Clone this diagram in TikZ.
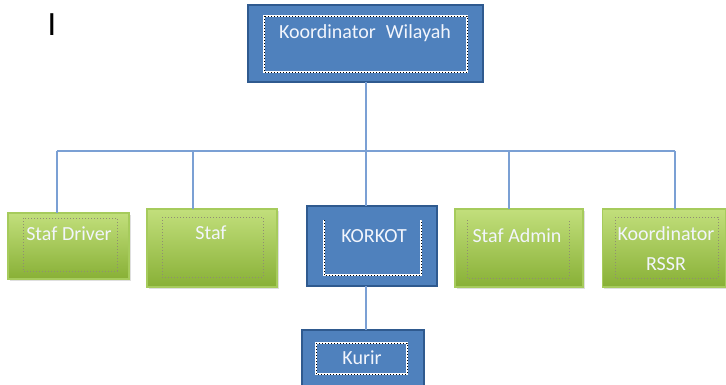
\documentclass[tikz,border=0pt]{standalone}
\usepackage{fontspec}
\setmainfont{Carlito}
\usetikzlibrary{shadows}

\definecolor{boxblue}{HTML}{4F81BD}
\definecolor{edgeblue}{HTML}{2F5A8F}
\definecolor{linkblue}{HTML}{7BA0D4}
\definecolor{greentop}{HTML}{C2DF7C}
\definecolor{greenbot}{HTML}{88B036}
\definecolor{greenedge}{HTML}{A6CB5C}
\definecolor{labelwhite}{HTML}{F2F5FC}

\tikzset{
  bluebox/.style={rectangle,draw=edgeblue,line width=2.2pt,fill=boxblue,inner sep=0pt,outer sep=0pt},
  greenbox/.style={rectangle,draw=greenedge,line width=1.5pt,top color=greentop,bottom color=greenbot,
    inner sep=0pt,outer sep=0pt,drop shadow={opacity=0.25,shadow xshift=1.5pt,shadow yshift=-2pt}},
  bluedots/.style={draw=black,line width=1pt,dotted,preaction={draw=white,line width=1.6pt,solid}},
  greendots/.style={draw=gray!80!olive,line width=1pt,dotted},
  lbl/.style={text=labelwhite,font=\fontsize{20}{30}\selectfont,anchor=base,inner sep=0pt},
  link/.style={draw=linkblue,line width=1.5pt}
}

\begin{document}
\begin{tikzpicture}[x=1pt,y=-1pt]
        \clip (0,0) rectangle (726,384);
        % boxes
        \node at (365.5,43.5) [bluebox,minimum width=235pt,minimum height=77pt] (kw) {};
        \node at (68.5,246) [greenbox,minimum width=121pt,minimum height=66pt] (sd) {};
        \node at (212,248) [greenbox,minimum width=130pt,minimum height=78pt] (st) {};
        \node at (372,246) [bluebox,minimum width=130pt,minimum height=80pt] (ko) {};
        \node at (519,248) [greenbox,minimum width=128pt,minimum height=78pt] (sa) {};
        \node at (664,248) [greenbox,minimum width=123pt,minimum height=78pt] (rs) {};
        \node at (363,360) [bluebox,minimum width=122pt,minimum height=60pt] (ku) {};
        % dotted frames
        \draw[bluedots] (264,16) rectangle (467,72);
        \draw[greendots] (23,218) rectangle (117,271);
        \draw[greendots] (162,217) rectangle (263,277);
        \draw[bluedots] (324,220) -- (324,275) -- (421,275) -- (421,220);
        \draw[greendots] (467,220) -- (467,278) -- (569,278) -- (569,220);
        \draw[greendots] (615,217) rectangle (718,278);
        \draw[bluedots] (316,343) rectangle (407,374);
        % labels
        \node at (365,38) [lbl] (kw-t) {Koordinator\hspace{0.5em}Wilayah};
        \node at (69,240) [lbl] (sd-t) {Staf Driver};
        \node at (211,239) [lbl] (st-t) {Staf};
        \node at (374,242) [lbl] (ko-t) {KORKOT};
        \node at (517,242) [lbl] (sa-t) {Staf Admin};
        \node at (666,270) [lbl,align=center] (rs-t) {Koordinator\\RSSR};
        \node at (362,364) [lbl] (ku-t) {Kurir};
        \node at (52,35) [anchor=base,inner sep=0pt,font=\fontsize{34}{34}\selectfont] (cur) {I};
        % connectors
        \coordinate (d1) at (57,151);
        \coordinate (d2) at (193,151);
        \coordinate (d3) at (366,151);
        \coordinate (d4) at (509,151);
        \coordinate (d5) at (675,151);
        \draw[link] (d3 |- kw.south) -- (d3);
        \draw[link] (d1) -- (d5);
        \draw[link] (d1) -- (d1 |- sd.north);
        \draw[link] (d2) -- (d2 |- st.north);
        \draw[link] (d3) -- (d3 |- ko.north);
        \draw[link] (d4) -- (d4 |- sa.north);
        \draw[link] (d5) -- (d5 |- rs.north);
        \draw[link] (d3 |- ko.south) -- (d3 |- ku.north);
\end{tikzpicture}
\end{document}
